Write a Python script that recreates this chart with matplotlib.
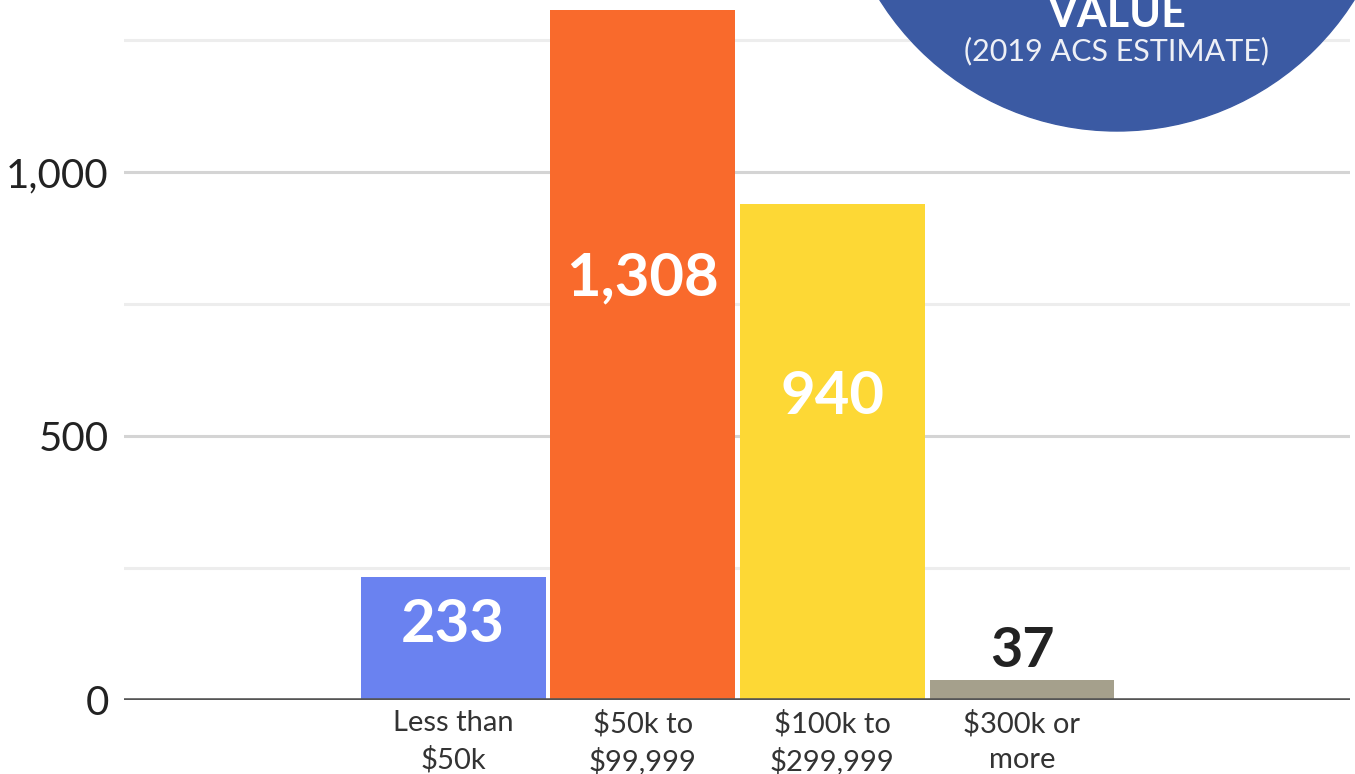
import matplotlib.pyplot as plt
from matplotlib.patches import Ellipse

categories = ["Less than\n$50k", "$50k to\n$99,999", "$100k to\n$299,999", "$300k or\nmore"]
values = [233, 1308, 940, 37]
colors = ["#6a82f0", "#f96a2c", "#fdd835", "#a5a08c"]
major_ticks = [0, 500, 1000]
minor_ticks = [250, 750, 1250]

plt.rcParams['font.family'] = ['Lato', 'DejaVu Sans']

fig = plt.figure(figsize=(13.55, 7.74), dpi=100)
ax = fig.add_axes([124 / 1355, 74 / 774, 1226 / 1355, 700 / 774])

x = list(range(len(values)))
ax.bar(x, values, width=0.975, color=colors, zorder=3)

for xi, v in zip(x, values):
    if v > 100:
        ax.text(xi, v * 0.61, f"{v:,}", ha='center', va='center', color='white',
                fontsize=43, fontweight='bold', zorder=4)
    else:
        ax.text(xi, v + 8, f"{v:,}", ha='center', va='bottom', color='#222222',
                fontsize=40, fontweight='bold', zorder=4)

for t in major_ticks[1:]:
    ax.axhline(t, color='#d4d4d4', lw=2.2, zorder=1)
for t in minor_ticks:
    ax.axhline(t, color='#ededed', lw=2.2, zorder=1)
ax.axhline(0, color='#555555', lw=2.6, zorder=5)

ax.set_xlim(-1.736, 4.73)
ax.set_ylim(0, 1326)
ax.set_yticks(major_ticks)
ax.set_yticklabels([f"{t:,}" for t in major_ticks], fontsize=29, color='#222222')
ax.set_xticks(x)
ax.set_xticklabels(categories, fontsize=21, color='#333333', linespacing=1.45)
ax.tick_params(axis='both', length=0)
ax.tick_params(axis='y', pad=11)
ax.tick_params(axis='x', pad=7)
for s in ax.spines.values():
    s.set_visible(False)

circ = Ellipse((1117 / 1355, (774 + 149) / 774), 560 / 1355, 560 / 774,
               transform=fig.transFigure, color='#3b5aa3', zorder=10)
fig.add_artist(circ)
fig.text(1117 / 1355, 1 - 14 / 774, "VALUE", ha='center', va='center', color='white',
         fontsize=31, fontweight='bold', zorder=11)
fig.text(1117 / 1355, 1 - 51 / 774, "(2019 ACS ESTIMATE)", ha='center', va='center',
         color='#eef0f6', fontsize=22, fontweight='normal', zorder=11)

fig.savefig("out.png", dpi=100)
